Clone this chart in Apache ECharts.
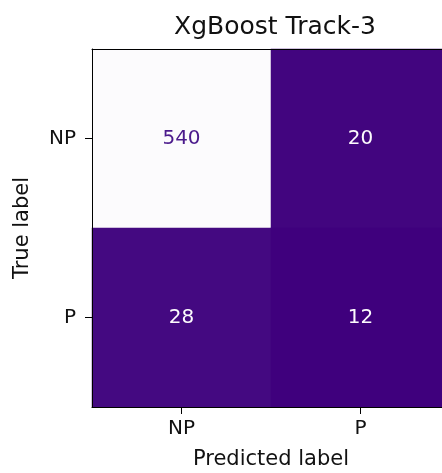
<!DOCTYPE html>
<html>
<head>
<meta charset="utf-8">
<script src="https://cdn.jsdelivr.net/npm/echarts@6/dist/echarts.min.js"></script>
<style>
  html, body { margin: 0; padding: 0; background: #fff; }
  #chart { width: 442px; height: 473px; }
</style>
</head>
<body>
<div id="chart"></div>
<script>
// 混淆矩阵数据
var predictedLabels = ['NP', 'P'];
var trueLabels = ['NP', 'P'];
var countsNP = [540, 20];   // true NP row
var countsP = [28, 12];     // true P row

var rows = [countsNP, countsP];
var allVals = countsNP.concat(countsP);
var vMin = Math.min.apply(null, allVals);
var vMax = Math.max.apply(null, allVals);
var thresh = (vMin + vMax) / 2;

var cells = [];
rows.forEach(function (row, r) {
  row.forEach(function (v, c) {
    cells.push({
      value: [c, r, v],
      label: { color: v < thresh ? '#fcfbfd' : '#4b1a8c' }
    });
  });
});

var font = 'DejaVu Sans';
var tickStyle = { show: true, alignWithLabel: true, length: 7, lineStyle: { color: '#000', width: 1 } };

var chart = echarts.init(document.getElementById('chart'));
chart.setOption({
  animation: false,
  title: {
    text: 'XgBoost Track-3',
    left: 270, top: 10, textAlign: 'center',
    textStyle: { fontFamily: font, fontSize: 25, fontWeight: 'normal', color: '#111' }
  },
  grid: { left: 92, top: 49, width: 358, height: 358, containLabel: false, outerBoundsMode: 'none' },
  xAxis: [{
    type: 'category',
    data: predictedLabels,
    z: 5,
    name: 'Predicted label',
    nameLocation: 'middle',
    nameGap: 42,
    nameTextStyle: { fontFamily: font, fontSize: 21, color: '#111' },
    axisLine: { show: true, lineStyle: { color: '#000', width: 1 } },
    axisTick: tickStyle,
    axisLabel: { fontFamily: font, fontSize: 20, color: '#111', margin: 12 },
    splitLine: { show: false }
  }, {
    // top spine
    type: 'category',
    data: predictedLabels,
    position: 'top',
    z: 5,
    axisLine: { show: true, lineStyle: { color: '#000', width: 1 } },
    axisTick: { show: false },
    axisLabel: { show: false },
    splitLine: { show: false }
  }],
  yAxis: {
    type: 'category',
    data: trueLabels,
    inverse: true,
    z: 5,
    name: 'True label',
    nameLocation: 'middle',
    nameGap: 59,
    nameTextStyle: { fontFamily: font, fontSize: 21, color: '#111' },
    axisLine: { show: true, lineStyle: { color: '#000', width: 1 } },
    axisTick: tickStyle,
    axisLabel: { fontFamily: font, fontSize: 20, color: '#111', margin: 16 },
    splitLine: { show: false }
  },
  visualMap: {
    show: false,
    min: vMin,
    max: vMax,
    dimension: 2,
    inRange: {
      color: ['#3f007d', '#54278f', '#6a51a3', '#807dba', '#9e9ac8', '#bcbddc', '#dadaeb', '#efedf5', '#fcfbfd']
    }
  },
  series: [{
    type: 'heatmap',
    xAxisIndex: 0,
    data: cells,
    label: { show: true, fontFamily: font, fontSize: 20 },
    itemStyle: { borderWidth: 0 }
  }]
});
</script>
</body>
</html>
